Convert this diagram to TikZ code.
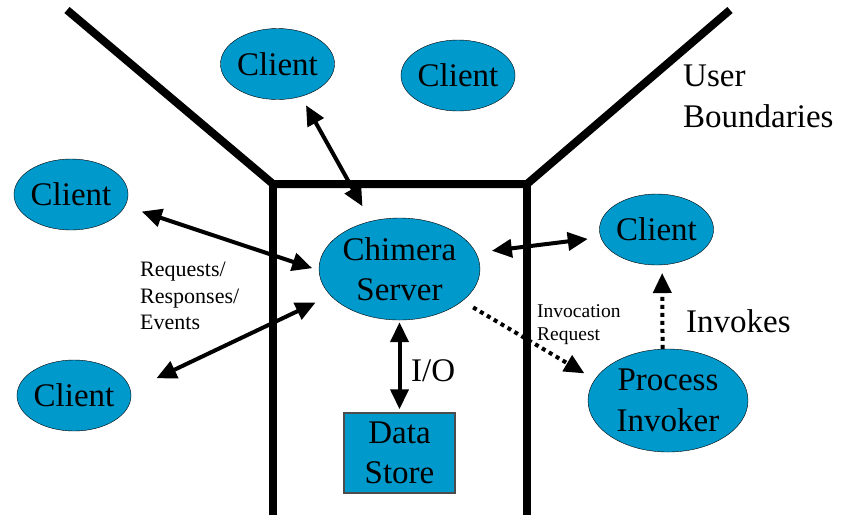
\documentclass[tikz,border=0pt]{standalone}
\usepackage{fontspec}
\setmainfont{LiberationSerif}[Extension=.ttf,UprightFont=*-Regular,BoldFont=*-Bold,ItalicFont=*-Italic,BoldItalicFont=*-BoldItalic]
\usetikzlibrary{shapes.geometric,arrows.meta}
\definecolor{nodeblue}{RGB}{0,153,204}
\newcommand{\bigFont}{\rmfamily\fontsize{33}{40.5}\selectfont}

\begin{document}
\begin{tikzpicture}[x=1pt,y=-1pt,
  client/.style={ellipse,draw,fill=nodeblue,minimum width=102pt,minimum height=71pt,inner sep=0pt,font=\bigFont},
  bigblob/.style={ellipse,draw,fill=nodeblue,minimum width=161pt,minimum height=102pt,inner sep=0pt,align=center,font=\bigFont},
  storebox/.style={rectangle,draw=black!70,line width=1.5pt,fill=nodeblue,minimum width=111pt,minimum height=80pt,inner sep=0pt,align=center,font=\bigFont},
  boundary/.style={line width=8pt,line join=miter},
  link/.style={line width=4pt,{Triangle[length=20pt,width=18pt]}-{Triangle[length=20pt,width=18pt]}},
  invoke/.style={line width=4pt,dash pattern=on 4pt off 4pt,-{Triangle[length=20pt,width=18pt]}},
  textlabel/.style={inner sep=0pt,align=left}]
  \useasboundingbox (0,0) rectangle (850,515);

  \draw[boundary] (67,10) -- (273,184) -- (527,184) -- (730,10);
  \draw[boundary] (273,184) -- (273,515);
  \draw[boundary] (527,184) -- (527,515);

  \node[client] (cTopLeft) at (277.5,64) {Client};
  \node[client] (cTopMid) at (458,75.5) {Client};
  \node[client] (cLeft) at (71,194.5) {Client};
  \node[client] (cLowLeft) at (74,395.5) {Client};
  \node[client] (cRight) at (656.5,229.5) {Client};
  \node[bigblob] (server) at (399.5,269) {Chimera\\Server};
  \node[bigblob,minimum width=160pt,minimum height=103pt] (invoker) at (668,400.5) {Process\\Invoker};
  \node[storebox] (store) at (399.5,453) {Data\\Store};

  \node[textlabel,anchor=north west,font=\rmfamily\fontsize{22}{26.5}\selectfont] (reqLabel) at (140,262) {Requests/\\Responses/\\Events};
  \node[textlabel,anchor=north west,font=\rmfamily\fontsize{19.5}{23}\selectfont] (invReqLabel) at (537,304) {Invocation\\Request};
  \node[textlabel,anchor=base west,font=\bigFont] (invokesLabel) at (686,332) {Invokes};
  \node[textlabel,anchor=base west,font=\bigFont] (ioLabel) at (411,381) {I/O};
  \node[textlabel,anchor=north west,font=\rmfamily\fontsize{33}{41}\selectfont] (userLabel) at (683,65) {User\\Boundaries};

  \draw[link,shorten <=10pt,shorten >=17pt] (cTopLeft.-54) -- (server.121);
  \draw[link,shorten <=17.5pt,shorten >=7pt] (cLeft.-12) -- (server.181);
  \draw[link,shorten <=28.5pt,shorten >=16.5pt] (cLowLeft.5) -- (server.201);
  \draw[link,shorten <=16pt,shorten >=13pt] (server.12) -- (cRight.188);
  \draw[link,shorten <=2pt,shorten >=3pt] (server.south) -- (store.north);
  \draw[invoke,shorten <=12.5pt,shorten >=12pt] (server.-27) -- (invoker.164);
  \draw[invoke,shorten >=8pt] (invoker.96) -- (cRight.-81);
\end{tikzpicture}
\end{document}
